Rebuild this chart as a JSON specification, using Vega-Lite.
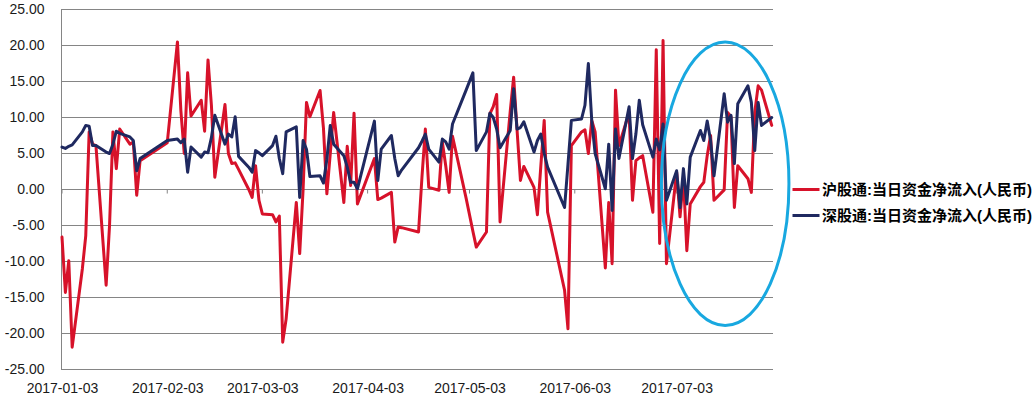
{
  "$schema": "https://vega.github.io/schema/vega-lite/v6.json",
  "width": 712,
  "height": 360,
  "autosize": {"type": "none"},
  "padding": {"left": 61, "top": 9.5, "right": 262, "bottom": 29.5},
  "background": "white",
  "config": {
    "view": {"stroke": null},
    "axisX": {
      "title": null, "format": "%Y-%m-%d",
      "grid": false, "ticks": false, "domain": false,
      "labelFlush": false, "labelOverlap": false, "labelPadding": 12,
      "labelFont": "Liberation Sans", "labelFontSize": 14, "labelColor": "#1a1a1a"
    },
    "axisY": {
      "title": null,
      "labelExpr": "replace(format(datum.value, '.2f'), '−', '-')",
      "labelOverlap": false,
      "grid": false,
      "domain": true, "domainColor": "#858585", "domainWidth": 1,
      "ticks": false, "tickSize": 0, "labelPadding": 17,
      "labelFont": "Liberation Sans", "labelFontSize": 14, "labelColor": "#1a1a1a"
    }
  },
  "encoding": {
    "x": {
      "field": "date", "type": "temporal",
      "scale": {"type": "utc", "domain": [
        {"year": 2017, "month": 1, "date": 2, "hours": 17, "utc": true},
        {"year": 2017, "month": 7, "date": 31, "hours": 9, "utc": true}
      ]},
      "axis": {
        "values": [
          {"year": 2017, "month": 1, "date": 3, "utc": true},
          {"year": 2017, "month": 2, "date": 3, "utc": true},
          {"year": 2017, "month": 3, "date": 3, "utc": true},
          {"year": 2017, "month": 4, "date": 3, "utc": true},
          {"year": 2017, "month": 5, "date": 3, "utc": true},
          {"year": 2017, "month": 6, "date": 3, "utc": true},
          {"year": 2017, "month": 7, "date": 3, "utc": true}
        ]
      }
    },
    "y": {
      "field": "value", "type": "quantitative",
      "scale": {"domain": [-25, 25], "nice": false, "zero": false},
      "axis": {"values": [-25, -20, -15, -10, -5, 0, 5, 10, 15, 20, 25]}
    }
  },
  "layer": [
    {
      "data": {"values": [
        {"value": -25, "date": "2017-01-02T17:00:00Z"}, {"value": -25, "date": "2017-07-31T09:00:00Z"},
        {"value": -20, "date": "2017-01-02T17:00:00Z"}, {"value": -20, "date": "2017-07-31T09:00:00Z"},
        {"value": -15, "date": "2017-01-02T17:00:00Z"}, {"value": -15, "date": "2017-07-31T09:00:00Z"},
        {"value": -10, "date": "2017-01-02T17:00:00Z"}, {"value": -10, "date": "2017-07-31T09:00:00Z"},
        {"value": -5, "date": "2017-01-02T17:00:00Z"}, {"value": -5, "date": "2017-07-31T09:00:00Z"},
        {"value": 0, "date": "2017-01-02T17:00:00Z"}, {"value": 0, "date": "2017-07-31T09:00:00Z"},
        {"value": 5, "date": "2017-01-02T17:00:00Z"}, {"value": 5, "date": "2017-07-31T09:00:00Z"},
        {"value": 10, "date": "2017-01-02T17:00:00Z"}, {"value": 10, "date": "2017-07-31T09:00:00Z"},
        {"value": 15, "date": "2017-01-02T17:00:00Z"}, {"value": 15, "date": "2017-07-31T09:00:00Z"},
        {"value": 20, "date": "2017-01-02T17:00:00Z"}, {"value": 20, "date": "2017-07-31T09:00:00Z"},
        {"value": 25, "date": "2017-01-02T17:00:00Z"}, {"value": 25, "date": "2017-07-31T09:00:00Z"}
      ]},
      "mark": {"type": "line", "color": "#858585", "strokeWidth": 1},
      "encoding": {
        "detail": {"field": "value", "type": "nominal"}
      }
    },
    {
      "data": {"values": [
        {"date": "2017-01-03", "value": 0}, {"date": "2017-02-03", "value": 0}, {"date": "2017-03-03", "value": 0},
        {"date": "2017-04-03", "value": 0}, {"date": "2017-05-03", "value": 0}, {"date": "2017-06-03", "value": 0},
        {"date": "2017-07-03", "value": 0}
      ]},
      "mark": {"type": "rule", "color": "#858585", "strokeWidth": 1},
      "encoding": {
        "y2": {"datum": -0.56}
      }
    },
    {
      "data": {"values": [
        {"date":"2017-01-03","沪股通:当日资金净流入(人民币)":-6.6,"深股通:当日资金净流入(人民币)":5.9},
        {"date":"2017-01-04","沪股通:当日资金净流入(人民币)":-14.3,"深股通:当日资金净流入(人民币)":5.7},
        {"date":"2017-01-05","沪股通:当日资金净流入(人民币)":-9.9,"深股通:当日资金净流入(人民币)":6.0},
        {"date":"2017-01-06","沪股通:当日资金净流入(人民币)":-21.9,"深股通:当日资金净流入(人民币)":6.2},
        {"date":"2017-01-09","沪股通:当日资金净流入(人民币)":-11.0,"深股通:当日资金净流入(人民币)":8.0},
        {"date":"2017-01-10","沪股通:当日资金净流入(人民币)":-6.4,"深股通:当日资金净流入(人民币)":8.9},
        {"date":"2017-01-11","沪股通:当日资金净流入(人民币)":8.0,"深股通:当日资金净流入(人民币)":8.8},
        {"date":"2017-01-12","沪股通:当日资金净流入(人民币)":6.3,"深股通:当日资金净流入(人民币)":6.1},
        {"date":"2017-01-13","沪股通:当日资金净流入(人民币)":6.1,"深股通:当日资金净流入(人民币)":6.1},
        {"date":"2017-01-16","沪股通:当日资金净流入(人民币)":-13.3,"深股通:当日资金净流入(人民币)":5.2},
        {"date":"2017-01-17","沪股通:当日资金净流入(人民币)":-5.0,"深股通:当日资金净流入(人民币)":5.0},
        {"date":"2017-01-18","沪股通:当日资金净流入(人民币)":8.0,"深股通:当日资金净流入(人民币)":6.3},
        {"date":"2017-01-19","沪股通:当日资金净流入(人民币)":2.9,"深股通:当日资金净流入(人民币)":8.1},
        {"date":"2017-01-20","沪股通:当日资金净流入(人民币)":8.4,"深股通:当日资金净流入(人民币)":7.8},
        {"date":"2017-01-23","沪股通:当日资金净流入(人民币)":6.3,"深股通:当日资金净流入(人民币)":7.3},
        {"date":"2017-01-24","沪股通:当日资金净流入(人民币)":6.6,"深股通:当日资金净流入(人民币)":6.8},
        {"date":"2017-01-25","沪股通:当日资金净流入(人民币)":-0.8,"深股通:当日资金净流入(人民币)":2.6},
        {"date":"2017-01-26","沪股通:当日资金净流入(人民币)":4.0,"深股通:当日资金净流入(人民币)":4.3},
        {"date":"2017-02-03","沪股通:当日资金净流入(人民币)":6.5,"深股通:当日资金净流入(人民币)":6.8},
        {"date":"2017-02-06","沪股通:当日资金净流入(人民币)":20.5,"深股通:当日资金净流入(人民币)":7.0},
        {"date":"2017-02-07","沪股通:当日资金净流入(人民币)":11.0,"深股通:当日资金净流入(人民币)":6.5},
        {"date":"2017-02-08","沪股通:当日资金净流入(人民币)":5.0,"深股通:当日资金净流入(人民币)":7.0},
        {"date":"2017-02-09","沪股通:当日资金净流入(人民币)":16.2,"深股通:当日资金净流入(人民币)":2.4},
        {"date":"2017-02-10","沪股通:当日资金净流入(人民币)":10.2,"深股通:当日资金净流入(人民币)":5.9},
        {"date":"2017-02-13","沪股通:当日资金净流入(人民币)":12.4,"深股通:当日资金净流入(人民币)":4.5},
        {"date":"2017-02-14","沪股通:当日资金净流入(人民币)":8.1,"深股通:当日资金净流入(人民币)":5.2},
        {"date":"2017-02-15","沪股通:当日资金净流入(人民币)":18.0,"深股通:当日资金净流入(人民币)":5.1},
        {"date":"2017-02-16","沪股通:当日资金净流入(人民币)":11.7,"深股通:当日资金净流入(人民币)":7.2},
        {"date":"2017-02-17","沪股通:当日资金净流入(人民币)":1.7,"深股通:当日资金净流入(人民币)":10.3},
        {"date":"2017-02-20","沪股通:当日资金净流入(人民币)":11.8,"深股通:当日资金净流入(人民币)":6.3},
        {"date":"2017-02-21","沪股通:当日资金净流入(人民币)":5.0,"深股通:当日资金净流入(人民币)":7.7},
        {"date":"2017-02-22","沪股通:当日资金净流入(人民币)":3.6,"深股通:当日资金净流入(人民币)":7.3},
        {"date":"2017-02-23","沪股通:当日资金净流入(人民币)":3.7,"深股通:当日资金净流入(人民币)":10.1},
        {"date":"2017-02-24","沪股通:当日资金净流入(人民币)":2.8,"深股通:当日资金净流入(人民币)":4.6},
        {"date":"2017-02-27","沪股通:当日资金净流入(人民币)":0.0,"深股通:当日资金净流入(人民币)":3.1},
        {"date":"2017-02-28","沪股通:当日资金净流入(人民币)":-1.1,"深股通:当日资金净流入(人民币)":2.4},
        {"date":"2017-03-01","沪股通:当日资金净流入(人民币)":3.3,"深股通:当日资金净流入(人民币)":5.4},
        {"date":"2017-03-02","沪股通:当日资金净流入(人民币)":-1.5,"深股通:当日资金净流入(人民币)":5.1},
        {"date":"2017-03-03","沪股通:当日资金净流入(人民币)":-3.4,"深股通:当日资金净流入(人民币)":4.7},
        {"date":"2017-03-06","沪股通:当日资金净流入(人民币)":-3.5,"深股通:当日资金净流入(人民币)":6.1},
        {"date":"2017-03-07","沪股通:当日资金净流入(人民币)":-4.5,"深股通:当日资金净流入(人民币)":7.4},
        {"date":"2017-03-08","沪股通:当日资金净流入(人民币)":-3.7,"深股通:当日资金净流入(人民币)":4.3},
        {"date":"2017-03-09","沪股通:当日资金净流入(人民币)":-21.2,"深股通:当日资金净流入(人民币)":2.2},
        {"date":"2017-03-10","沪股通:当日资金净流入(人民币)":-18.0,"深股通:当日资金净流入(人民币)":8.0},
        {"date":"2017-03-13","沪股通:当日资金净流入(人民币)":-1.8,"深股通:当日资金净流入(人民币)":8.7},
        {"date":"2017-03-14","沪股通:当日资金净流入(人民币)":-8.9,"深股通:当日资金净流入(人民币)":-1.1},
        {"date":"2017-03-15","沪股通:当日资金净流入(人民币)":0.0,"深股通:当日资金净流入(人民币)":6.8},
        {"date":"2017-03-16","沪股通:当日资金净流入(人民币)":12.1,"深股通:当日资金净流入(人民币)":5.6},
        {"date":"2017-03-17","沪股通:当日资金净流入(人民币)":10.1,"深股通:当日资金净流入(人民币)":1.8},
        {"date":"2017-03-20","沪股通:当日资金净流入(人民币)":13.75,"深股通:当日资金净流入(人民币)":1.9},
        {"date":"2017-03-21","沪股通:当日资金净流入(人民币)":8.5,"深股通:当日资金净流入(人民币)":0.9},
        {"date":"2017-03-22","沪股通:当日资金净流入(人民币)":-0.6,"深股通:当日资金净流入(人民币)":4.2},
        {"date":"2017-03-23","沪股通:当日资金净流入(人民币)":5.0,"深股通:当日资金净流入(人民币)":8.9},
        {"date":"2017-03-24","沪股通:当日资金净流入(人民币)":10.7,"深股通:当日资金净流入(人民币)":6.3},
        {"date":"2017-03-27","沪股通:当日资金净流入(人民币)":-1.8,"深股通:当日资金净流入(人民币)":4.7},
        {"date":"2017-03-28","沪股通:当日资金净流入(人民币)":6.0,"深股通:当日资金净流入(人民币)":3.1},
        {"date":"2017-03-29","沪股通:当日资金净流入(人民币)":0.55,"深股通:当日资金净流入(人民币)":1.0},
        {"date":"2017-03-30","沪股通:当日资金净流入(人民币)":10.6,"深股通:当日资金净流入(人民币)":1.0},
        {"date":"2017-03-31","沪股通:当日资金净流入(人民币)":-2.0,"深股通:当日资金净流入(人民币)":0.1},
        {"date":"2017-04-05","沪股通:当日资金净流入(人民币)":4.3,"深股通:当日资金净流入(人民币)":9.5},
        {"date":"2017-04-06","沪股通:当日资金净流入(人民币)":-1.4,"深股通:当日资金净流入(人民币)":1.25},
        {"date":"2017-04-07","沪股通:当日资金净流入(人民币)":-1.2,"深股通:当日资金净流入(人民币)":5.6},
        {"date":"2017-04-10","沪股通:当日资金净流入(人民币)":-0.4,"深股通:当日资金净流入(人民币)":7.5},
        {"date":"2017-04-11","沪股通:当日资金净流入(人民币)":-7.3,"深股通:当日资金净流入(人民币)":4.3},
        {"date":"2017-04-12","沪股通:当日资金净流入(人民币)":-5.2,"深股通:当日资金净流入(人民币)":1.9},
        {"date":"2017-04-13","沪股通:当日资金净流入(人民币)":-5.3,"深股通:当日资金净流入(人民币)":2.7},
        {"date":"2017-04-18","沪股通:当日资金净流入(人民币)":-5.9,"深股通:当日资金净流入(人民币)":5.8},
        {"date":"2017-04-19","沪股通:当日资金净流入(人民币)":1.7,"深股通:当日资金净流入(人民币)":6.7},
        {"date":"2017-04-20","沪股通:当日资金净流入(人民币)":8.4,"深股通:当日资金净流入(人民币)":7.7},
        {"date":"2017-04-21","沪股通:当日资金净流入(人民币)":0.3,"深股通:当日资金净流入(人民币)":5.6},
        {"date":"2017-04-24","沪股通:当日资金净流入(人民币)":-0.1,"深股通:当日资金净流入(人民币)":3.8},
        {"date":"2017-04-25","沪股通:当日资金净流入(人民币)":6.6,"深股通:当日资金净流入(人民币)":7.0},
        {"date":"2017-04-26","沪股通:当日资金净流入(人民币)":3.3,"深股通:当日资金净流入(人民币)":6.6},
        {"date":"2017-04-27","沪股通:当日资金净流入(人民币)":-0.4,"深股通:当日资金净流入(人民币)":5.6},
        {"date":"2017-04-28","沪股通:当日资金净流入(人民币)":7.4,"深股通:当日资金净流入(人民币)":9.1},
        {"date":"2017-05-02","沪股通:当日资金净流入(人民币)":-1.2,"深股通:当日资金净流入(人民币)":13.8},
        {"date":"2017-05-04","沪股通:当日资金净流入(人民币)":-5.8,"深股通:当日资金净流入(人民币)":16.2},
        {"date":"2017-05-05","沪股通:当日资金净流入(人民币)":-8.0,"深股通:当日资金净流入(人民币)":5.4},
        {"date":"2017-05-08","沪股通:当日资金净流入(人民币)":-5.9,"深股通:当日资金净流入(人民币)":8.0},
        {"date":"2017-05-09","沪股通:当日资金净流入(人民币)":10.5,"深股通:当日资金净流入(人民币)":10.6},
        {"date":"2017-05-10","沪股通:当日资金净流入(人民币)":11.5,"深股通:当日资金净流入(人民币)":10.0},
        {"date":"2017-05-11","沪股通:当日资金净流入(人民币)":13.2,"深股通:当日资金净流入(人民币)":8.4},
        {"date":"2017-05-12","沪股通:当日资金净流入(人民币)":-4.5,"深股通:当日资金净流入(人民币)":5.8},
        {"date":"2017-05-15","沪股通:当日资金净流入(人民币)":10.9,"深股通:当日资金净流入(人民币)":8.2},
        {"date":"2017-05-16","沪股通:当日资金净流入(人民币)":15.6,"深股通:当日资金净流入(人民币)":14.0},
        {"date":"2017-05-17","沪股通:当日资金净流入(人民币)":8.3,"深股通:当日资金净流入(人民币)":8.4},
        {"date":"2017-05-18","沪股通:当日资金净流入(人民币)":1.25,"深股通:当日资金净流入(人民币)":8.6},
        {"date":"2017-05-19","沪股通:当日资金净流入(人民币)":3.2,"深股通:当日资金净流入(人民币)":9.4},
        {"date":"2017-05-22","沪股通:当日资金净流入(人民币)":0.3,"深股通:当日资金净流入(人民币)":5.2},
        {"date":"2017-05-23","沪股通:当日资金净流入(人民币)":-3.5,"深股通:当日资金净流入(人民币)":6.8},
        {"date":"2017-05-24","沪股通:当日资金净流入(人民币)":3.2,"深股通:当日资金净流入(人民币)":7.7},
        {"date":"2017-05-25","沪股通:当日资金净流入(人民币)":9.6,"深股通:当日资金净流入(人民币)":5.0},
        {"date":"2017-05-26","沪股通:当日资金净流入(人民币)":-3.15,"深股通:当日资金净流入(人民币)":3.1},
        {"date":"2017-05-31","沪股通:当日资金净流入(人民币)":-14.0,"深股通:当日资金净流入(人民币)":-2.5},
        {"date":"2017-06-01","沪股通:当日资金净流入(人民币)":-19.35,"深股通:当日资金净流入(人民币)":3.5},
        {"date":"2017-06-02","沪股通:当日资金净流入(人民币)":6.1,"深股通:当日资金净流入(人民币)":9.6},
        {"date":"2017-06-05","沪股通:当日资金净流入(人民币)":8.0,"深股通:当日资金净流入(人民币)":9.8},
        {"date":"2017-06-06","沪股通:当日资金净流入(人民币)":8.3,"深股通:当日资金净流入(人民币)":11.7},
        {"date":"2017-06-07","沪股通:当日资金净流入(人民币)":5.0,"深股通:当日资金净流入(人民币)":17.5},
        {"date":"2017-06-08","沪股通:当日资金净流入(人民币)":9.6,"深股通:当日资金净流入(人民币)":9.6},
        {"date":"2017-06-09","沪股通:当日资金净流入(人民币)":8.0,"深股通:当日资金净流入(人民币)":5.0},
        {"date":"2017-06-12","沪股通:当日资金净流入(人民币)":-10.9,"深股通:当日资金净流入(人民币)":0.1},
        {"date":"2017-06-13","沪股通:当日资金净流入(人民币)":-1.8,"深股通:当日资金净流入(人民币)":6.3},
        {"date":"2017-06-14","沪股通:当日资金净流入(人民币)":-10.3,"深股通:当日资金净流入(人民币)":-2.9},
        {"date":"2017-06-15","沪股通:当日资金净流入(人民币)":13.8,"深股通:当日资金净流入(人民币)":8.4},
        {"date":"2017-06-16","沪股通:当日资金净流入(人民币)":6.1,"深股通:当日资金净流入(人民币)":4.3},
        {"date":"2017-06-19","沪股通:当日资金净流入(人民币)":10.7,"深股通:当日资金净流入(人民币)":11.5},
        {"date":"2017-06-20","沪股通:当日资金净流入(人民币)":-1.5,"深股通:当日资金净流入(人民币)":4.3},
        {"date":"2017-06-21","沪股通:当日资金净流入(人民币)":4.0,"深股通:当日资金净流入(人民币)":7.7},
        {"date":"2017-06-22","沪股通:当日资金净流入(人民币)":4.4,"深股通:当日资金净流入(人民币)":12.4},
        {"date":"2017-06-23","沪股通:当日资金净流入(人民币)":4.7,"深股通:当日资金净流入(人民币)":9.0},
        {"date":"2017-06-26","沪股通:当日资金净流入(人民币)":-3.15,"深股通:当日资金净流入(人民币)":4.5},
        {"date":"2017-06-27","沪股通:当日资金净流入(人民币)":19.4,"深股通:当日资金净流入(人民币)":7.0},
        {"date":"2017-06-28","沪股通:当日资金净流入(人民币)":-7.5,"深股通:当日资金净流入(人民币)":5.5},
        {"date":"2017-06-29","沪股通:当日资金净流入(人民币)":20.7,"深股通:当日资金净流入(人民币)":9.1},
        {"date":"2017-06-30","沪股通:当日资金净流入(人民币)":-10.3,"深股通:当日资金净流入(人民币)":-1.5},
        {"date":"2017-07-03","沪股通:当日资金净流入(人民币)":2.4,"深股通:当日资金净流入(人民币)":2.6},
        {"date":"2017-07-04","沪股通:当日资金净流入(人民币)":-3.8,"深股通:当日资金净流入(人民币)":-2.5},
        {"date":"2017-07-05","沪股通:当日资金净流入(人民币)":1.7,"深股通:当日资金净流入(人民币)":2.9},
        {"date":"2017-07-06","沪股通:当日资金净流入(人民币)":-8.5,"深股通:当日资金净流入(人民币)":-2.0},
        {"date":"2017-07-07","沪股通:当日资金净流入(人民币)":-2.0,"深股通:当日资金净流入(人民币)":4.5},
        {"date":"2017-07-10","沪股通:当日资金净流入(人民币)":0.4,"深股通:当日资金净流入(人民币)":8.2},
        {"date":"2017-07-11","沪股通:当日资金净流入(人民币)":1.0,"深股通:当日资金净流入(人民币)":6.8},
        {"date":"2017-07-12","沪股通:当日资金净流入(人民币)":4.7,"深股通:当日资金净流入(人民币)":9.5},
        {"date":"2017-07-13","沪股通:当日资金净流入(人民币)":7.5,"深股通:当日资金净流入(人民币)":6.8},
        {"date":"2017-07-14","沪股通:当日资金净流入(人民币)":-1.5,"深股通:当日资金净流入(人民币)":1.9},
        {"date":"2017-07-17","沪股通:当日资金净流入(人民币)":-0.05,"深股通:当日资金净流入(人民币)":13.3},
        {"date":"2017-07-18","沪股通:当日资金净流入(人民币)":10.7,"深股通:当日资金净流入(人民币)":9.35},
        {"date":"2017-07-19","沪股通:当日资金净流入(人民币)":10.1,"深股通:当日资金净流入(人民币)":10.3},
        {"date":"2017-07-20","沪股通:当日资金净流入(人民币)":-2.5,"深股通:当日资金净流入(人民币)":3.6},
        {"date":"2017-07-21","沪股通:当日资金净流入(人民币)":3.3,"深股通:当日资金净流入(人民币)":11.9},
        {"date":"2017-07-24","沪股通:当日资金净流入(人民币)":1.5,"深股通:当日资金净流入(人民币)":14.4},
        {"date":"2017-07-25","沪股通:当日资金净流入(人民币)":-0.4,"深股通:当日资金净流入(人民币)":12.1},
        {"date":"2017-07-26","沪股通:当日资金净流入(人民币)":10.7,"深股通:当日资金净流入(人民币)":5.4},
        {"date":"2017-07-27","沪股通:当日资金净流入(人民币)":14.4,"深股通:当日资金净流入(人民币)":12.1},
        {"date":"2017-07-28","沪股通:当日资金净流入(人民币)":13.8,"深股通:当日资金净流入(人民币)":8.9},
        {"date":"2017-07-31","沪股通:当日资金净流入(人民币)":8.9,"深股通:当日资金净流入(人民币)":10.0}
      ]},
      "transform": [
        {"fold": ["沪股通:当日资金净流入(人民币)", "深股通:当日资金净流入(人民币)"], "as": ["series", "value"]}
      ],
      "mark": {"type": "line", "strokeWidth": 3, "strokeJoin": "round", "strokeCap": "round"},
      "encoding": {
        "color": {
          "field": "series", "type": "nominal",
          "scale": {
            "domain": ["沪股通:当日资金净流入(人民币)", "深股通:当日资金净流入(人民币)"],
            "range": ["#D7122A", "#1F2960"]
          },
          "legend": {
            "orient": "none", "legendX": 730, "legendY": 165,
            "title": null, "padding": 0,
            "symbolType": "stroke", "symbolSize": 729, "symbolStrokeWidth": 3,
            "labelFont": "Liberation Sans, Noto Sans CJK SC", "labelFontSize": 15, "labelFontWeight": "bold",
            "labelColor": "#000000", "labelOffset": 1, "labelLimit": 400,
            "rowPadding": 3
          }
        }
      }
    },
    {
      "data": {"values": [{"date": "2017-07-17T07:00:00Z", "value": 0.8}]},
      "mark": {
        "type": "point",
        "shape": "M0,-1C0.248,-1 0.45,-0.552 0.45,0C0.45,0.552 0.248,1 0,1C-0.248,1 -0.45,0.552 -0.45,0C-0.45,-0.552 -0.248,-1 0,-1Z",
        "size": 80316, "filled": false, "stroke": "#18A8E0", "strokeWidth": 3, "opacity": 1
      }
    }
  ]
}
